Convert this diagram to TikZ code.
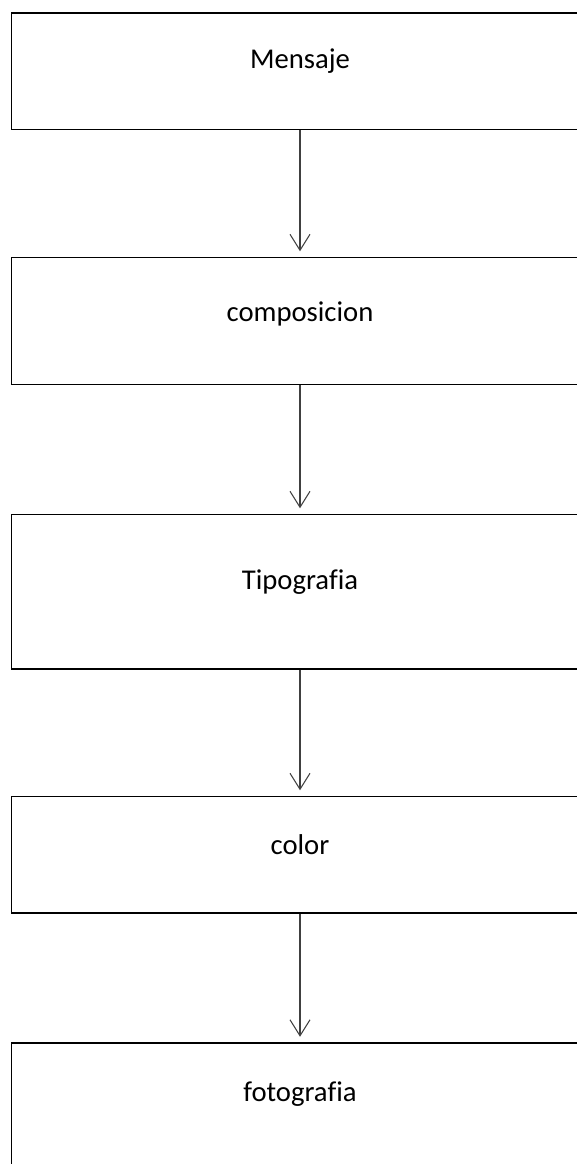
\documentclass[tikz,border=0pt]{standalone}
\usepackage{fontspec}
\setmainfont[Ligatures=NoCommon]{Carlito}
\usetikzlibrary{arrows.meta}
\begin{document}
\begin{tikzpicture}[x=0.75pt,y=-0.75pt,
  box/.style={draw=black, line width=1.35pt, rectangle, inner sep=0pt, minimum width=432.75pt},
  lbl/.style={anchor=base, font=\fontsize{21.5}{26}\selectfont, inner sep=0pt},
  flow/.style={draw=black!75, line width=0.8pt, -{Straight Barb[length=12pt,width=15pt,line width=0.8pt]}, shorten >=4pt}]
\useasboundingbox (0,0) rectangle (577,1164);
\node[box, minimum height=87.375pt] (b1) at (300,71.25) {};
\node[box, minimum height=95.25pt] (b2) at (300,321) {};
\node[box, minimum height=115.875pt] (b3) at (300,591.75) {};
\node[box, minimum height=87.375pt] (b4) at (300,854.75) {};
\node[box, minimum height=102.75pt] (b5) at (300,1111.5) {};
\node[lbl] (t1) at (300,68.3) {Mensaje};
\node[lbl] (t2) at (300,321.7) {composicion};
\node[lbl] (t3) at (300,589.3) {Tipografia};
\node[lbl] (t4) at (300,854.3) {color};
\node[lbl] (t5) at (300,1101) {fotografia};
\draw[flow] (b1.south) -- (b2.north);
\draw[flow] (b2.south) -- (b3.north);
\draw[flow] (b3.south) -- (b4.north);
\draw[flow] (b4.south) -- (b5.north);
\end{tikzpicture}
\end{document}
